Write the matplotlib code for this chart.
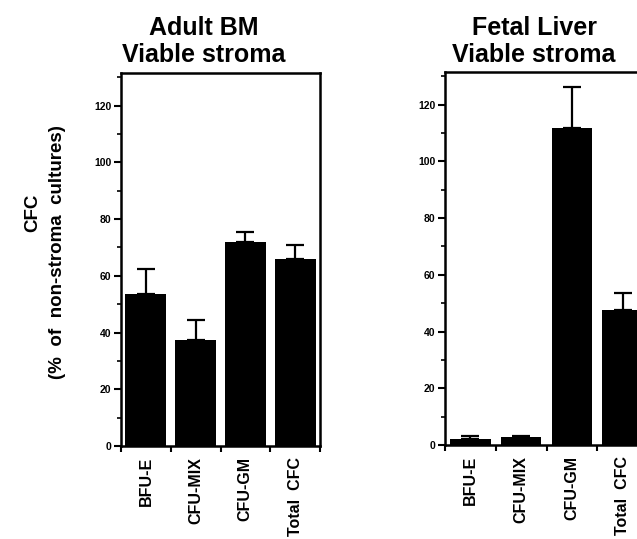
import matplotlib
matplotlib.use("Agg")
import matplotlib.pyplot as plt
from matplotlib.ticker import MultipleLocator

plt.rcParams['font.family'] = ['Liberation Sans', 'DejaVu Sans']
plt.rcParams['font.weight'] = 'bold'

categories = ["BFU-E", "CFU-MIX", "CFU-GM", "Total  CFC"]

# Adult BM, viable stroma (% of non-stroma cultures)
adult_vals = [53.5, 37.3, 72.0, 66.0]
adult_err = [8.9, 7.1, 3.5, 4.9]

# Fetal liver, viable stroma
fetal_vals = [2.0, 2.8, 111.9, 47.7]
fetal_err = [1.0, 0.4, 14.3, 5.9]

titles = ["Adult BM\nViable stroma", "Fetal Liver\nViable stroma"]

W, H = 637, 539
fig = plt.figure(figsize=(W / 100, H / 100), dpi=100)


def px_box(x0, x1, ytop, ybot):
    return [x0 / W, 1 - ybot / H, (x1 - x0) / W, (ybot - ytop) / H]


def draw_panel(ax, vals, err, width):
    pos = [i + 0.5 for i in range(len(categories))]
    ax.bar(pos, vals, width=width, color='black', zorder=2)
    ax.errorbar(pos, vals, yerr=[[0] * len(err), err], fmt='none',
                ecolor='black', elinewidth=1.6, capsize=6.5, capthick=1.6,
                zorder=3)
    ax.set_xlim(0, len(categories))
    ax.set_ylim(0, 131.5)
    ax.set_xticks(range(len(categories) + 1))
    ax.set_xticklabels([])
    ax.set_xticks(pos, minor=True)
    ax.set_xticklabels(categories, minor=True, rotation=90, fontsize=11.5,
                       fontweight='bold', va='top')
    ax.tick_params(axis='x', which='minor', length=0, pad=8)
    ax.tick_params(axis='x', which='major', length=4, width=1.5,
                   direction='out')
    ax.yaxis.set_major_locator(MultipleLocator(20))
    ax.yaxis.set_minor_locator(MultipleLocator(10))
    ax.tick_params(axis='y', which='major', length=5, width=1.5,
                   labelsize=7.5, pad=2)
    ax.tick_params(axis='y', which='minor', length=3, width=1.2)
    for lab in ax.get_yticklabels():
        lab.set_fontweight('bold')
    for s in ax.spines.values():
        s.set_linewidth(1.8)


ax1 = fig.add_axes(px_box(121, 320, 73, 446))
draw_panel(ax1, adult_vals, adult_err, 0.82)

ax2 = fig.add_axes(px_box(445, 648, 72, 445))
draw_panel(ax2, fetal_vals, fetal_err, 0.8)

fig.text(204 / W, 1 - 67 / H, titles[0], ha='center', va='bottom',
         fontsize=18, fontweight='bold', linespacing=1.15)
fig.text(534 / W, 1 - 67 / H, titles[1], ha='center', va='bottom',
         fontsize=18, fontweight='bold', linespacing=1.15)

fig.text(33 / W, 1 - 213 / H, "CFC", rotation=90, ha='center', va='center',
         fontsize=13.5, fontweight='bold')
fig.text(58 / W, 1 - 252 / H, "(%  of  non-stroma  cultures)", rotation=90,
         ha='center', va='center', fontsize=13.5, fontweight='bold')

fig.savefig("out.png", dpi=100)
